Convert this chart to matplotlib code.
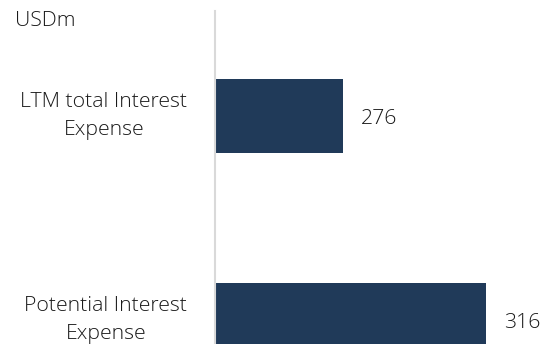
import matplotlib
matplotlib.use("Agg")
import matplotlib.pyplot as plt

categories = ["LTM total Interest\nExpense", "Potential Interest\nExpense"]
values = [276, 316]
unit = "USDm"

bar_color = "#203A59"
text_color = "#1a1a1a"
font = "Open Sans"
fsize = 15.3

fig = plt.figure(figsize=(5.41, 3.44), dpi=100)
ax = fig.add_axes([215 / 541, 0, 326 / 541, 1 - 11 / 344])

pos = list(range(len(categories)))
ax.barh(pos, values, height=0.363, left=0, color=bar_color)
ax.set_xlim(240.2, 331.4)
ax.set_ylim(1.118, -0.515)

ax.set_yticks([])
ax.set_xticks([])

# category labels, drawn as text so the lower one stays inside the figure
for p, c in zip(pos, categories):
    ax.annotate(c, (0, p), xycoords=("axes fraction", "data"),
                xytext=(-20, 0), textcoords="offset points",
                ha="right", va="center", multialignment="center",
                linespacing=1.55, fontsize=fsize, family=font,
                fontweight="light", color=text_color, annotation_clip=False)

for s in ["top", "right", "bottom"]:
    ax.spines[s].set_visible(False)
ax.spines["left"].set_color("#D9D9D9")
ax.spines["left"].set_linewidth(1.5)

for p, v in zip(pos, values):
    ax.annotate(str(v), (v, p), xytext=(13, -2), textcoords="offset points",
                va="center", ha="left", fontsize=fsize, family=font,
                fontweight="light", color=text_color)

fig.text(15 / 541, 1 - 21 / 344, unit, ha="left", va="center", fontsize=fsize,
         family=font, fontweight="light", color=text_color)

fig.savefig("out.png", dpi=100)
